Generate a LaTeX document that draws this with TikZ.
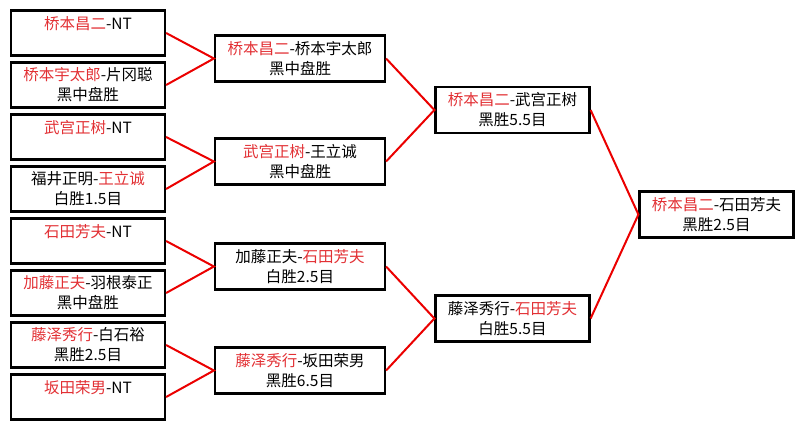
\documentclass[tikz,border=0pt]{standalone}
\usepackage{fontspec}
\setmainfont{Noto Sans CJK SC}
\usepackage{xcolor}
\usetikzlibrary{positioning}
\definecolor{winred}{RGB}{226,48,52}
\definecolor{linkred}{RGB}{235,0,0}
\newcommand{\win}[1]{\textcolor{winred}{#1}}

\begin{document}
\begin{tikzpicture}[
  x=1pt, y=-1pt,
  node distance=4.8pt,
  game/.style={draw, line width=2.2pt, minimum height=45pt, minimum width=154pt,
    align=center, inner sep=2pt, font=\fontsize{15.5}{20}\selectfont},
  wide/.style={game, minimum width=170pt, minimum height=46pt},
  link/.style={draw=linkred, line width=2pt}
]
\useasboundingbox (0,0) rectangle (804,429);
% first round
\node[game] (a1) at (88,33) {\win{桥本昌二}-NT\\~};
\node[game, below=of a1] (a2) {\win{桥本宇太郎}-片冈聪\\黑中盘胜};
\node[game, below=of a2] (a3) {\win{武宫正树}-NT\\~};
\node[game, below=of a3] (a4) {福井正明-\win{王立诚}\\白胜1.5目};
\node[game, below=of a4] (a5) {\win{石田芳夫}-NT\\~};
\node[game, below=of a5] (a6) {\win{加藤正夫}-羽根泰正\\黑中盘胜};
\node[game, below=of a6] (a7) {\win{藤泽秀行}-白石裕\\黑胜2.5目};
\node[game, below=of a7] (a8) {\win{坂田荣男}-NT\\~};
% second round
\node[wide] (b1) at (300,58.5) {\win{桥本昌二}-桥本宇太郎\\黑中盘胜};
\node[wide] (b2) at (300,161.5) {\win{武宫正树}-王立诚\\黑中盘胜};
\node[wide] (b3) at (300,266.5) {加藤正夫-\win{石田芳夫}\\白胜2.5目};
\node[wide] (b4) at (300,370.5) {\win{藤泽秀行}-坂田荣男\\黑胜6.5目};
% semi-finals
\node[game, minimum height=46pt] (c1) at (512.5,110) {\win{桥本昌二}-武宫正树\\黑胜5.5目};
\node[game, minimum height=46pt] (c2) at (512.5,318.5) {藤泽秀行-\win{石田芳夫}\\白胜5.5目};
% final
\node[game, minimum height=46pt] (final) at (716.5,214.5) {\win{桥本昌二}-石田芳夫\\黑胜2.5目};
% connectors
\path[link] (a1.east) -- (b1.west) -- (a2.east);
\path[link] (a3.east) -- (b2.west) -- (a4.east);
\path[link] (a5.east) -- (b3.west) -- (a6.east);
\path[link] (a7.east) -- (b4.west) -- (a8.east);
\path[link] (b1.east) -- (c1.west) -- (b2.east);
\path[link] (b3.east) -- (c2.west) -- (b4.east);
\path[link] (c1.east) -- (final.west) -- (c2.east);
\end{tikzpicture}
\end{document}
